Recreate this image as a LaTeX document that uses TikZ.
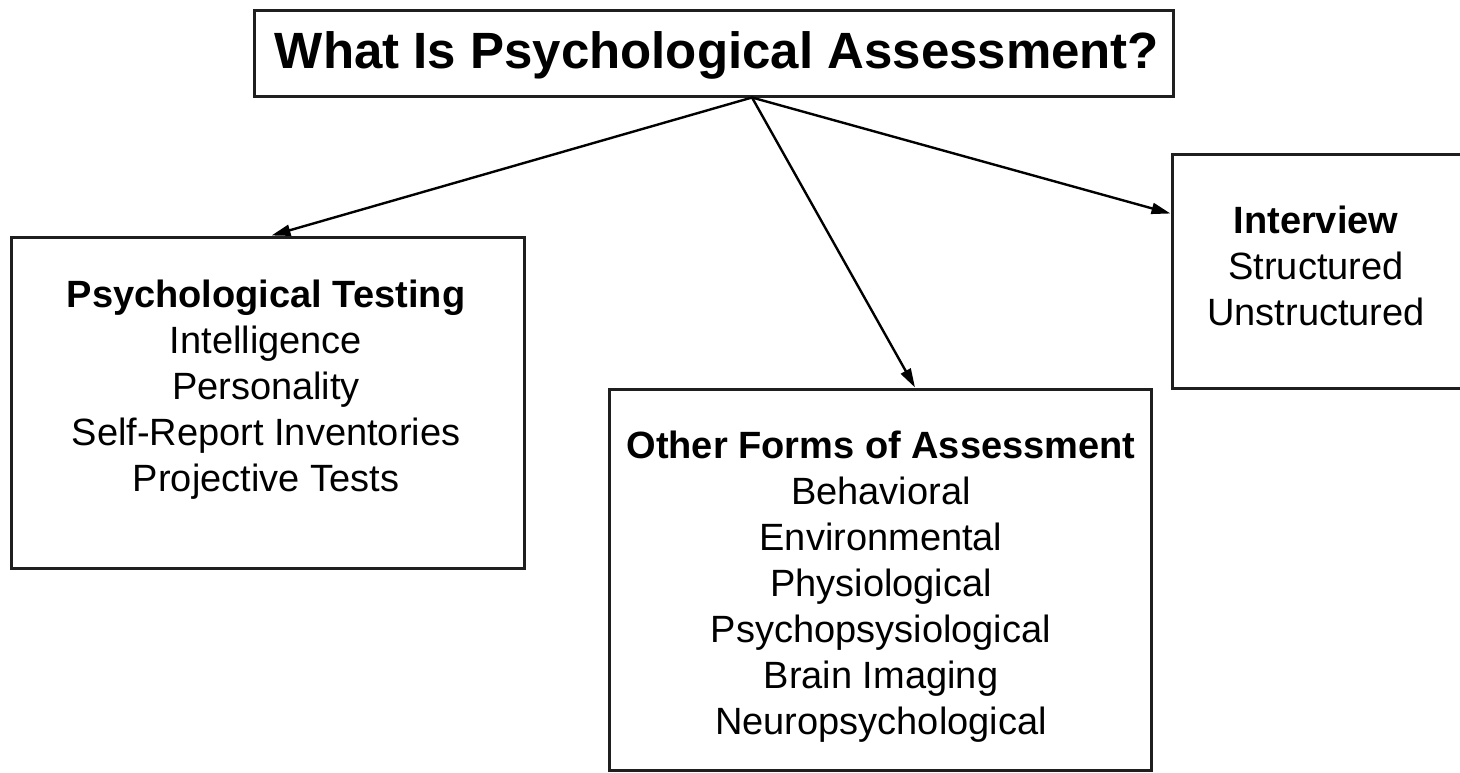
\documentclass[tikz,border=0pt]{standalone}
\usepackage{fontspec}
\setmainfont{Liberation Sans}
\usetikzlibrary{arrows.meta,calc}
\begin{document}
\begin{tikzpicture}[x=1pt,y=-1pt,
  box/.style={draw=black!88,line width=3pt,fill=white,inner sep=0pt},
  label/.style={inner sep=0pt,align=center,font=\fontsize{38}{46}\selectfont},
  arr/.style={line width=2.4pt,-{Triangle[length=19pt,width=11pt]}},
]
\useasboundingbox (0,0) rectangle (1460,772);
\clip (0,0) rectangle (1460,772);

% boxes
\node[box,minimum width=919pt,minimum height=86pt] (title) at (713.5,53) {};
\node[box,minimum width=513pt,minimum height=331pt] (ptest) at (267.5,402.5) {};
\node[box,minimum width=542pt,minimum height=381pt] (other) at (880,579.5) {};
\node[box,minimum width=303pt,minimum height=234pt] (intv) at (1323.5,271) {};

% texts
\node[inner sep=0pt,font=\fontsize{51}{56}\selectfont\bfseries] (titletext) at (717,55) {What Is Psychological Assessment?};
\node[label] (ptesttext) at (266,389.5) {\textbf{Psychological Testing}\\Intelligence\\Personality\\Self-Report Inventories\\Projective Tests};
\node[label] (othertext) at (881,586.5) {\textbf{Other Forms of Assessment}\\Behavioral\\Environmental\\Physiological\\Psychopsysiological\\Brain Imaging\\Neuropsychological};
\node[label] (intvtext) at (1316,265.5) {\textbf{Interview}\\Structured\\Unstructured};

% connectors
\coordinate (hub) at ($(title.south)+(38.5,0)$);
\draw[arr] (hub) -- ($(ptest.north)+(4,0)$);
\draw[arr] (hub) -- ($(other.north)+(35,0)$);
\draw[arr] (hub) -- ($(intv.north west)+(0,61)$);
\end{tikzpicture}
\end{document}
